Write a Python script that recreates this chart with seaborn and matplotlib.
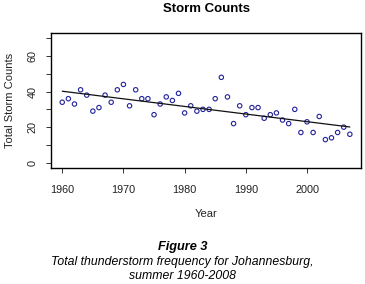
import pandas as pd
import seaborn as sns
import matplotlib
matplotlib.use("Agg")
from matplotlib import pyplot as plt

# data
years = list(range(1960, 2008))
storm_counts = [34, 36, 33, 41, 38, 29, 31, 38, 34, 41,
                44, 32, 41, 36, 36, 27, 33, 37, 35, 39,
                28, 32, 29, 30, 30, 36, 48, 37, 22, 32,
                27, 31, 31, 25, 27, 28, 24, 22, 30, 17,
                23, 17, 26, 13, 14, 17, 20, 16]
x_ticks = [1960, 1970, 1980, 1990, 2000]
y_ticks = [0, 10, 20, 30, 40, 50, 60, 70]
y_tick_labels = ['0', '', '20', '', '40', '', '60', '']

df = pd.DataFrame({'Year': years, 'Storms': storm_counts})

sns.set_theme(style="ticks")
plt.rcParams['font.family'] = ['Liberation Sans', 'DejaVu Sans']
plt.rcParams['text.color'] = 'black'

fig = plt.figure(figsize=(3.65, 2.84), dpi=100)
ax = fig.add_axes([0.139, 0.4095, 0.851, 0.4735])

sns.scatterplot(data=df, x='Year', y='Storms', ax=ax, marker='o', s=10,
                facecolor='none', edgecolor='#22229a', linewidth=0.8)
# linear trend line
sns.regplot(data=df, x='Year', y='Storms', ax=ax, scatter=False, ci=None,
            line_kws={'color': '#111111', 'linewidth': 0.9})

ax.set_xlim(1958.12, 2008.88)
ax.set_ylim(-2.8, 72.8)
ax.set_xticks(x_ticks)
ax.set_yticks(y_ticks)
ax.set_yticklabels(y_tick_labels, rotation=90, va='center')
ax.tick_params(axis='both', labelsize=7.8, length=3.5, width=0.7, color='#333333',
               labelcolor='#222222')
ax.tick_params(axis='x', pad=9)
ax.tick_params(axis='y', pad=6)
for sp in ax.spines.values():
    sp.set_visible(True)
    sp.set_linewidth(1.0)
    sp.set_color('black')

ax.set_xlabel('Year', fontsize=8, color='#222222', labelpad=10)
ax.set_ylabel('Total Storm Counts', fontsize=8, color='#222222', labelpad=9)
ax.set_title('Storm Counts', fontsize=9.5, fontweight='bold', pad=15)

fig.text(0.5, 1 - 247 / 284, 'Figure 3', ha='center', va='center',
         fontsize=9.2, fontweight='bold', style='italic')
fig.text(0.5, 1 - 261.5 / 284, 'Total thunderstorm frequency for Johannesburg,',
         ha='center', va='center', fontsize=8.8, style='italic')
fig.text(0.5, 1 - 276 / 284, 'summer 1960-2008', ha='center', va='center',
         fontsize=8.8, style='italic')

fig.savefig('out.png', dpi=100)
